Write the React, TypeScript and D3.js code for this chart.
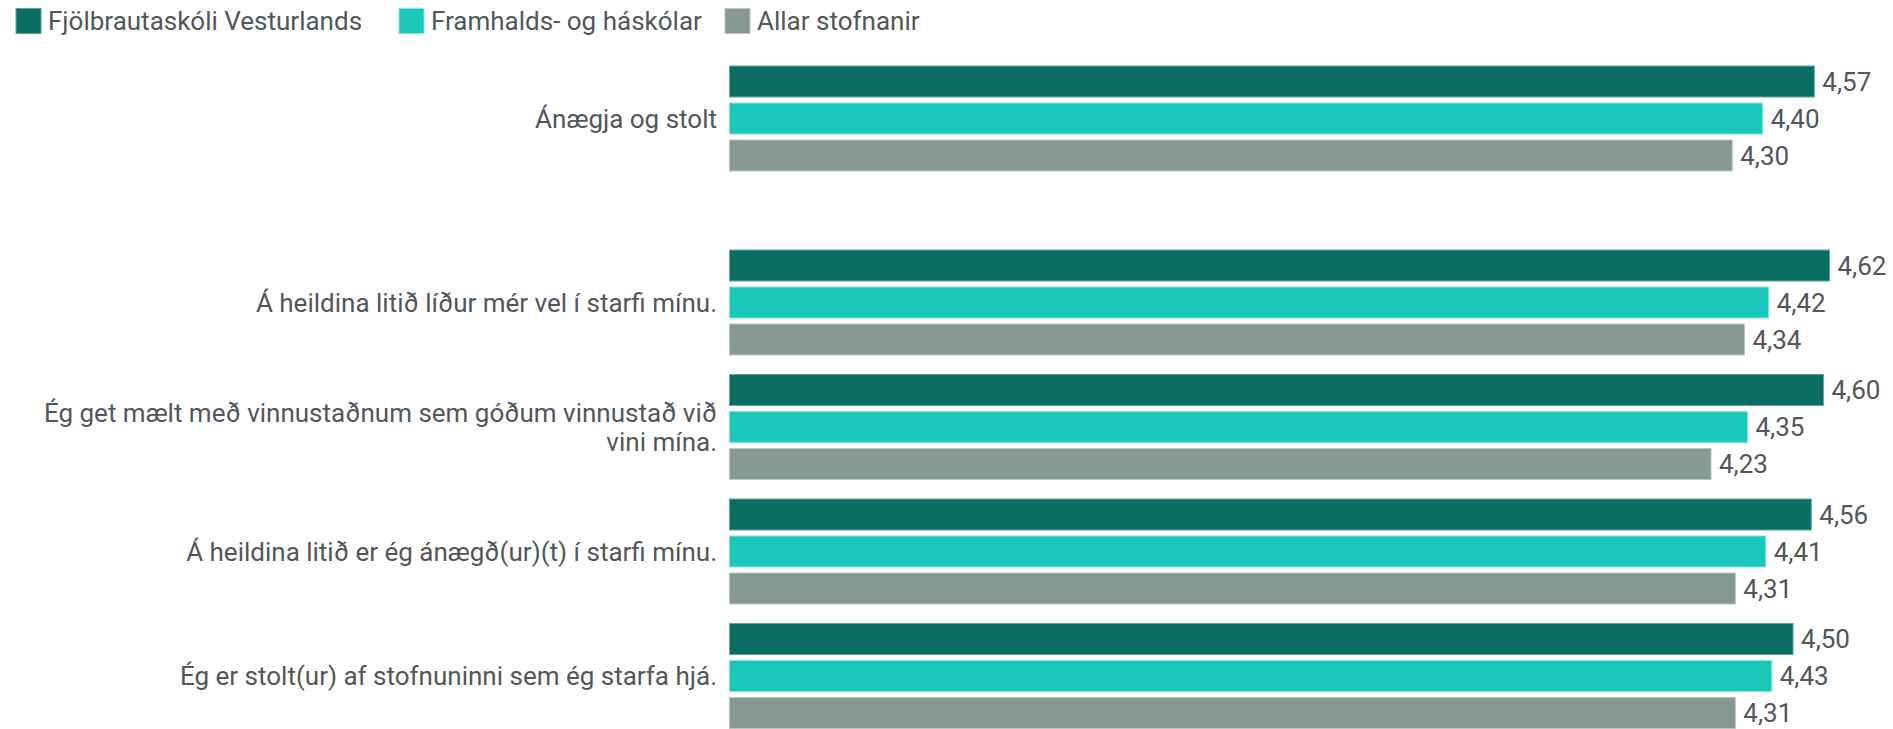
import React from "react";
import * as d3 from "d3";

const categories: string[][] = [
  ["Ánægja og stolt"],
  ["Á heildina litið líður mér vel í starfi mínu."],
  ["Ég get mælt með vinnustaðnum sem góðum vinnustað við", "vini mína."],
  ["Á heildina litið er ég ánægð(ur)(t) í starfi mínu."],
  ["Ég er stolt(ur) af stofnuninni sem ég starfa hjá."],
];

const seriesNames = ["Fjölbrautaskóli Vesturlands", "Framhalds- og háskólar", "Allar stofnanir"];
const fvlValues = [4.57, 4.62, 4.6, 4.56, 4.5];
const framhaldsValues = [4.4, 4.42, 4.35, 4.41, 4.43];
const allarValues = [4.3, 4.34, 4.23, 4.31, 4.31];
const seriesValues = [fvlValues, framhaldsValues, allarValues];

const colors = ["#0b6e64", "#19c8bb", "#879994"];
const strokes = ["#5fa59c", "#8ae3dc", "#b9c5c2"];

const W = 1893;
const H = 729;
const FONT = "Roboto, 'Source Sans Pro', 'Open Sans', sans-serif";
const TEXT = "#51575b";
const FS = 26;

// layout
const X0 = 729.5;
const X1 = 1829.5; // position of 4.62
const TOP = 66;
const STEP = 124.5;
const SECTION_GAP = 59.5;
const GROUP_H = 105;
const LABEL_X = 717;
const LEGEND_X = [16, 399, 725];

const locale = d3.formatLocale({ decimal: ",", thousands: ".", grouping: [3], currency: ["", ""] });
const fmt = locale.format(".2f");

export default function App() {
  const x = d3.scaleLinear().domain([1, 4.62]).range([X0, X1]);
  const inner = d3
    .scaleBand<number>()
    .domain([0, 1, 2])
    .range([0, GROUP_H])
    .paddingInner(6 / 37)
    .paddingOuter(0);
  const groupY = (i: number) => TOP + i * STEP + (i > 0 ? SECTION_GAP : 0);

  return (
    <svg
      width={W}
      height={H}
      style={{ position: "absolute", left: 0, top: 0, display: "block", background: "#fff" }}
      fontFamily={FONT}
    >
      {/* legend */}
      {seriesNames.map((name, s) => (
        <g key={name} transform={`translate(${LEGEND_X[s]},0)`}>
          <rect x={0} y={8.5} width={25} height={25} fill={colors[s]} stroke={strokes[s]} strokeWidth={1} />
          <text x={32} y={21} dominantBaseline="central" fontSize={FS} fill={TEXT}>
            {name}
          </text>
        </g>
      ))}

      {categories.map((lines, i) => {
        const gy = groupY(i);
        const midY = gy + (inner(1) as number) + inner.bandwidth() / 2;
        const lh = 29;
        return (
          <g key={i}>
            {lines.map((ln, k) => (
              <text
                key={k}
                x={LABEL_X}
                y={midY + (k - (lines.length - 1) / 2) * lh}
                textAnchor="end"
                dominantBaseline="central"
                fontSize={FS}
                fill={TEXT}
              >
                {ln}
              </text>
            ))}
            {seriesValues.map((vals, s) => {
              const by = gy + (inner(s) as number);
              const v = vals[i];
              return (
                <g key={s}>
                  <rect
                    x={x(1)}
                    y={by}
                    width={x(v) - x(1)}
                    height={inner.bandwidth()}
                    fill={colors[s]}
                    stroke={strokes[s]}
                    strokeWidth={1}
                  />
                  <text
                    x={x(v) + 8}
                    y={by + inner.bandwidth() / 2}
                    dominantBaseline="central"
                    fontSize={FS}
                    fill={TEXT}
                  >
                    {fmt(v)}
                  </text>
                </g>
              );
            })}
          </g>
        );
      })}
    </svg>
  );
}
